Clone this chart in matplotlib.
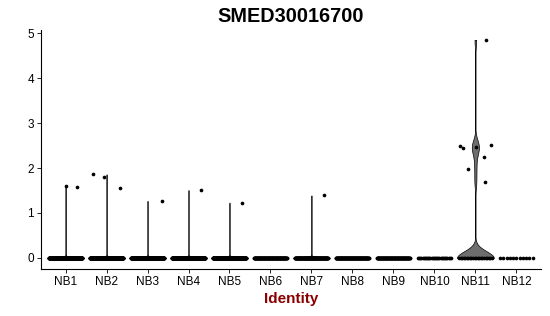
import matplotlib
matplotlib.use("Agg")
import matplotlib.pyplot as plt
import numpy as np

plt.rcParams["font.family"] = ["Liberation Sans", "DejaVu Sans"]

# data
groups = ["NB1", "NB2", "NB3", "NB4", "NB5", "NB6",
          "NB7", "NB8", "NB9", "NB10", "NB11", "NB12"]
zero_counts = [400, 450, 350, 400, 350, 140, 160, 140, 120, 30, 22, 11]
nonzero_values = [
    [1.59, 1.58],
    [1.86, 1.81, 1.56],
    [1.27],
    [1.51],
    [1.23],
    [],
    [1.39],
    [],
    [],
    [],
    [2.50, 2.44, 1.98, 2.46, 2.25, 1.69, 2.52, 4.85],
    [],
]
# horizontal jitter of the non-zero points
nonzero_jitter = [
    [0.0, 0.28],
    [-0.33, -0.07, 0.32],
    [0.36],
    [0.31],
    [0.31],
    [],
    [0.3],
    [],
    [],
    [],
    [-0.37, -0.31, -0.19, 0.02, 0.21, 0.24, 0.37, 0.26],
    [],
]
title = "SMED30016700"
xlabel = "Identity"

fig = plt.figure(figsize=(5.5, 3.16), dpi=100)
ax = fig.add_axes([0.0745, 0.149, 0.909, 0.756])

for i, (nz, vals, jit) in enumerate(zip(zero_counts, nonzero_values, nonzero_jitter)):
    x0 = i + 1
    data = np.concatenate([np.zeros(nz), np.array(vals, dtype=float)])
    if len(vals) > 0:
        bw = 0.15 if len(vals) > 3 else 0.02
        ys = np.linspace(0, data.max(), 600)
        dens = np.exp(-0.5 * ((ys[:, None] - data[None, :]) / bw) ** 2).sum(axis=1)
        half = 0.45 * dens / dens.max()
        ax.fill_betweenx(ys, x0 - half, x0 + half, facecolor="#6e6e6e",
                         edgecolor="black", linewidth=0.5, zorder=2)
    # points at zero
    offs = np.linspace(-0.4, 0.4, nz)
    ax.scatter(x0 + offs, np.zeros(nz), s=7, color="black", linewidths=0, zorder=3)
    if len(vals) > 0:
        ax.scatter(x0 + np.array(jit), vals, s=7, color="black", linewidths=0, zorder=3)

ax.set_xlim(0.4, 12.6)
ax.set_ylim(-0.244, 5.07)
ax.set_xticks(range(1, len(groups) + 1))
ax.set_xticklabels(groups)
ax.set_yticks([0, 1, 2, 3, 4, 5])
ax.tick_params(labelsize=8.5, colors="black", length=3, width=0.6, pad=2)
for s in ["top", "right"]:
    ax.spines[s].set_visible(False)
for s in ["left", "bottom"]:
    ax.spines[s].set_linewidth(0.8)
ax.set_xlabel(xlabel, fontsize=11, fontweight="bold", color="#8B0000", labelpad=3)
ax.set_title(title, fontsize=14.3, fontweight="bold", pad=6)

fig.savefig("out.png", dpi=100)
